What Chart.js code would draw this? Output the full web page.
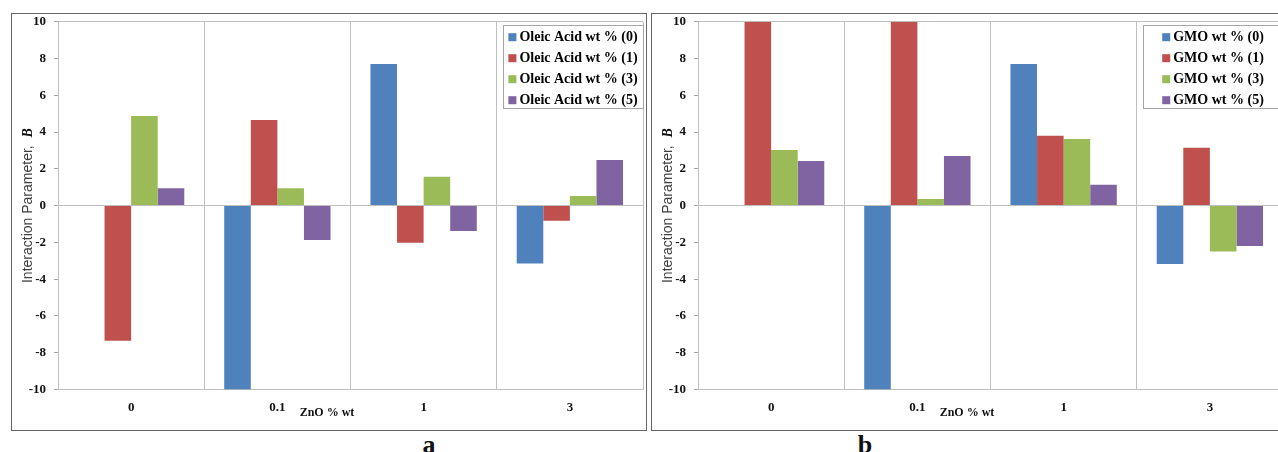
<!DOCTYPE html>
<html>
<head>
<meta charset="utf-8">
<script src="https://cdn.jsdelivr.net/npm/chart.js@4.4.1/dist/chart.umd.min.js"></script>
<style>
  html, body { margin: 0; padding: 0; background: #fff; width: 1278px; height: 452px; overflow: hidden; }
  .frame { position: absolute; top: 13px; width: 634px; height: 416px; border: 1px solid #666; }
  .frame canvas { display: block; }
  .panel-label { position: absolute; font-family: "Liberation Serif", serif; font-weight: bold; font-size: 26px; line-height: 26px; color: #111; transform: translateX(-50%); }
</style>
</head>
<body>
<div class="frame" style="left:11px;"><canvas id="chartA" width="634" height="416"></canvas></div>
<div class="frame" style="left:651px;"><canvas id="chartB" width="634" height="416"></canvas></div>
<div class="panel-label" style="left:429px; top:432px;">a</div>
<div class="panel-label" style="left:865px; top:432px;">b</div>
<script>
// ---------- DATA ----------
const categories = ['0', '0.1', '1', '3'];
const yTickValues = [-10, -8, -6, -4, -2, 0, 2, 4, 6, 8, 10];

const oleicLabels = ['Oleic Acid wt % (0)', 'Oleic Acid wt % (1)', 'Oleic Acid wt % (3)', 'Oleic Acid wt % (5)'];
const oleic0 = [0, -10, 7.70, -3.15];
const oleic1 = [-7.35, 4.65, -2.02, -0.82];
const oleic3 = [4.87, 0.94, 1.57, 0.52];
const oleic5 = [0.94, -1.87, -1.38, 2.48];

const gmoLabels = ['GMO wt % (0)', 'GMO wt % (1)', 'GMO wt % (3)', 'GMO wt % (5)'];
const gmo0 = [0, -10, 7.70, -3.18];
const gmo1 = [10, 10, 3.80, 3.15];
const gmo3 = [3.02, 0.36, 3.62, -2.50];
const gmo5 = [2.42, 2.70, 1.14, -2.20];

const yTitle = 'Interaction Parameter,  ';
const yTitleSymbol = 'B';
const xTitle = 'ZnO % wt';

// ---------- STYLE ----------
const seriesColors = ['#4F81BD', '#C0504D', '#9BBB59', '#8064A2'];
const gridGray = '#bfbfbf';
const serifBold = '"Liberation Serif", "Times New Roman", serif';

const decorPlugin = {
  id: 'decor',
  afterDraw(chart) {
    const ctx = chart.ctx;
    const a = chart.chartArea;
    // Y axis title (mixed fonts)
    ctx.save();
    ctx.translate(16, (a.top + a.bottom) / 2);
    ctx.rotate(-Math.PI / 2);
    ctx.textBaseline = 'middle';
    ctx.font = '14px "Liberation Sans", Arial, sans-serif';
    const w1 = ctx.measureText(yTitle).width;
    ctx.font = 'bold italic 14px ' + serifBold;
    const w2 = ctx.measureText(yTitleSymbol).width;
    let x0 = -(w1 + w2) / 2;
    ctx.textAlign = 'left';
    ctx.fillStyle = '#404040';
    ctx.font = '14px "Liberation Sans", Arial, sans-serif';
    ctx.fillText(yTitle, x0, 0);
    ctx.fillStyle = '#111';
    ctx.font = 'bold italic 14px ' + serifBold;
    ctx.fillText(yTitleSymbol, x0 + w1, 0);
    ctx.restore();

    // X axis title
    ctx.save();
    ctx.font = 'bold 12px ' + serifBold;
    ctx.fillStyle = '#111';
    ctx.textAlign = 'center';
    ctx.textBaseline = 'middle';
    ctx.fillText(xTitle, a.left + 269, a.bottom + 23);
    ctx.restore();

    // Legend box inside plot area
    const ds = chart.data.datasets;
    ctx.save();
    ctx.font = 'bold 14px ' + serifBold;
    let maxW = 0;
    ds.forEach(d => { maxW = Math.max(maxW, ctx.measureText(d.label).width); });
    const boxL = a.right - 140, boxT = a.top + 3, boxW = 140, boxH = 83;
    ctx.fillStyle = '#fff';
    ctx.fillRect(boxL, boxT, boxW, boxH);
    ctx.strokeStyle = '#a6a6a6';
    ctx.lineWidth = 1;
    ctx.strokeRect(Math.round(boxL) + 0.5, Math.round(boxT) + 0.5, boxW, boxH);
    const markerSize = 8, gap = 3;
    const entryW = markerSize + gap + maxW;
    const startX = boxL + (boxW - entryW) / 2;
    ds.forEach((d, i) => {
      const cy = a.top + 15.5 + i * 21;
      ctx.fillStyle = d.backgroundColor;
      ctx.fillRect(startX, cy - markerSize / 2, markerSize, markerSize);
      ctx.fillStyle = '#000';
      ctx.textAlign = 'left';
      ctx.textBaseline = 'middle';
      ctx.fillText(d.label, startX + markerSize + gap, cy + 0.5);
    });
    ctx.restore();
  }
};

function buildDatasets(labels, series) {
  return series.map((vals, i) => ({
    label: labels[i],
    data: vals,
    backgroundColor: seriesColors[i],
    borderWidth: 0,
    barPercentage: 1.0,
    categoryPercentage: 0.727
  }));
}

function makeChart(id, labels, series) {
  return new Chart(document.getElementById(id), {
    type: 'bar',
    data: { labels: categories, datasets: buildDatasets(labels, series) },
    plugins: [decorPlugin],
    options: {
      responsive: false,
      devicePixelRatio: 1,
      animation: false,
      layout: { padding: { top: 0, right: 3, left: 0, bottom: 0 } },
      plugins: { legend: { display: false }, tooltip: { enabled: false } },
      scales: {
        x: {
          offset: true,
          grid: { offset: true, color: gridGray, drawTicks: false, lineWidth: 1 },
          border: { display: true, color: gridGray },
          ticks: { font: { family: serifBold, size: 13, weight: 'bold' }, color: '#111', padding: 10 },
          afterFit(s) { s.height = 40.5; }
        },
        y: {
          min: -10, max: 10,
          afterBuildTicks(s) { s.ticks = yTickValues.map(v => ({ value: v })); },
          grid: {
            color: (c) => (c.tick && (c.tick.value === 0 || c.tick.value === 10 || c.tick.value === -10)) ? gridGray : 'rgba(0,0,0,0)',
            tickColor: '#a6a6a6',
            tickLength: 4,
            drawTicks: true
          },
          border: { display: true, color: gridGray },
          ticks: { font: { family: serifBold, size: 13, weight: 'bold' }, color: '#111', padding: 8 },
          afterFit(s) { s.width = 46; s.paddingTop = 7.7; s.paddingBottom = 0; }
        }
      }
    }
  });
}

makeChart('chartA', oleicLabels, [oleic0, oleic1, oleic3, oleic5]);
makeChart('chartB', gmoLabels, [gmo0, gmo1, gmo3, gmo5]);
</script>
</body>
</html>
